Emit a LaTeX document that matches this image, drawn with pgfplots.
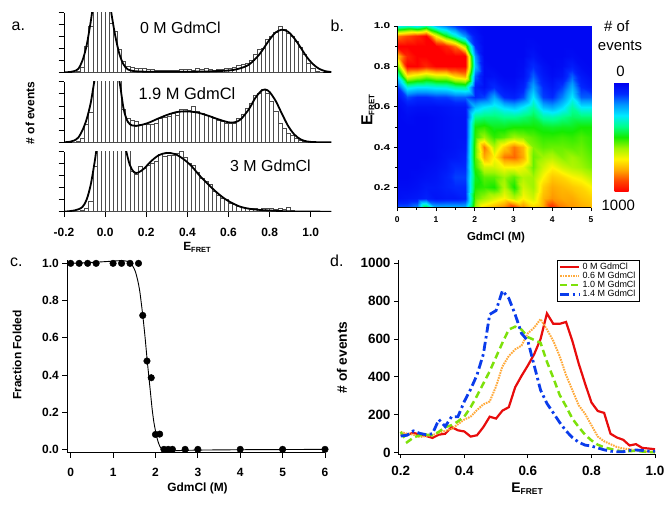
\documentclass[border=0pt]{standalone}
\usepackage{pgfplots}
\pgfplotsset{compat=1.18}
\usepackage{fontspec}
\setmainfont{Liberation Sans}
\usepackage{graphicx}
\newcommand{\fs}[1]{\fontsize{#1}{#1}\selectfont}
\definecolor{cred}{RGB}{232,12,12}
\definecolor{corange}{RGB}{255,170,60}
\definecolor{cgreen}{RGB}{125,225,10}
\definecolor{cblue}{RGB}{10,60,235}
\pgfplotsset{colormap={heat}{rgb255=(0,0,240) rgb255=(0,40,255) rgb255=(0,150,255) rgb255=(0,235,255) rgb255=(0,255,140) rgb255=(20,235,0) rgb255=(160,245,0) rgb255=(255,245,0) rgb255=(255,170,0) rgb255=(255,70,0) rgb255=(255,0,0)}}
\begin{document}
\begin{tikzpicture}
\path[use as bounding box] (0,0) rectangle (672bp,-510bp);
\pgfplotsset{
  every axis/.append style={scale only axis, tick align=outside,
    /pgf/number format/assume math mode=true,
    axis line style={-, line width=0.8bp}, every tick/.append style={black, line width=0.8bp}},
  hist/.style={anchor=north west, width=267.3bp, xmin=-0.2, xmax=1.1, ymin=0, ymax=1,
    axis x line*=bottom, axis y line*=left, ytick={0,0.2,0.4,0.6,0.8,1},
    yticklabels={{},{},{},{},{},{}},
    xtick=\empty, major tick length=5.5bp},
  bars/.style={ybar, bar width=0.02, bar shift=0pt, draw=black!70, fill=white, line width=0.5bp},
  fitc/.style={black, line width=1.8bp, smooth, tension=0.5}
}
% ---------------- panel a ----------------
\begin{axis}[hist, at={(64bp,-12.7bp)}, height=59.6bp]
\addplot[bars] coordinates {(-0.15,0)(-0.13,0.02)(-0.11,0.08)(-0.09,0.44)(-0.07,0.77)(-0.05,3)(-0.03,3)(-0.01,3)(0.01,3)(0.03,0.83)(0.05,0.69)(0.07,0.38)(0.09,0.18)(0.11,0.1)(0.13,0.09)(0.15,0.07)(0.17,0.06)(0.19,0.06)(0.21,0.05)(0.23,0.05)(0.25,0.04)(0.27,0.03)(0.29,0.04)(0.31,0.03)(0.33,0.04)(0.35,0.04)(0.37,0.05)(0.39,0.05)(0.41,0.05)(0.43,0.04)(0.45,0.06)(0.47,0.05)(0.49,0.06)(0.51,0.05)(0.53,0.04)(0.55,0.05)(0.57,0.05)(0.59,0.06)(0.61,0.07)(0.63,0.09)(0.65,0.11)(0.67,0.13)(0.69,0.16)(0.71,0.2)(0.73,0.3)(0.75,0.38)(0.77,0.41)(0.79,0.55)(0.81,0.6)(0.83,0.68)(0.85,0.77)(0.87,0.73)(0.89,0.66)(0.91,0.6)(0.93,0.52)(0.95,0.42)(0.97,0.3)(0.99,0.16)(1.01,0.06)(1.03,0.02)(1.05,0)};
\addplot[fitc] coordinates {(-0.2,0)(-0.17,0.005)(-0.15,0.02)(-0.13,0.06)(-0.11,0.2)(-0.09,0.45)(-0.07,0.85)(-0.05,1.3)(-0.02,1.7)(0.01,1.5)(0.03,1.0)(0.05,0.6)(0.07,0.3)(0.09,0.13)(0.11,0.05)(0.14,0.02)(0.2,0.01)(0.3,0.01)(0.4,0.01)(0.5,0.015)(0.6,0.03)(0.65,0.06)(0.7,0.13)(0.75,0.3)(0.8,0.55)(0.83,0.67)(0.86,0.715)(0.89,0.68)(0.92,0.57)(0.95,0.42)(0.98,0.26)(1.01,0.14)(1.04,0.06)(1.07,0.02)(1.1,0.005)};
\end{axis}
\begin{axis}[hist, at={(64bp,-81.7bp)}, height=60.6bp]
\addplot[bars] coordinates {(-0.15,0)(-0.13,0.02)(-0.11,0.07)(-0.09,0.29)(-0.07,0.5)(-0.05,3)(-0.03,3)(-0.01,3)(0.01,3)(0.03,3)(0.05,3)(0.07,3)(0.09,0.54)(0.11,0.4)(0.13,0.36)(0.15,0.34)(0.17,0.3)(0.19,0.29)(0.21,0.29)(0.23,0.29)(0.25,0.32)(0.27,0.4)(0.29,0.41)(0.31,0.43)(0.33,0.48)(0.35,0.44)(0.37,0.54)(0.39,0.54)(0.41,0.53)(0.43,0.59)(0.45,0.51)(0.47,0.48)(0.49,0.45)(0.51,0.43)(0.53,0.4)(0.55,0.37)(0.57,0.34)(0.59,0.32)(0.61,0.32)(0.63,0.32)(0.65,0.4)(0.67,0.46)(0.69,0.57)(0.71,0.65)(0.73,0.78)(0.75,0.81)(0.77,0.87)(0.79,0.81)(0.81,0.68)(0.83,0.51)(0.85,0.32)(0.87,0.24)(0.89,0.15)(0.91,0.12)(0.93,0.06)(0.95,0.03)(0.97,0.01)(0.99,0)};
\addplot[fitc] coordinates {(-0.2,0)(-0.17,0.01)(-0.15,0.03)(-0.13,0.08)(-0.11,0.2)(-0.09,0.38)(-0.07,0.65)(-0.05,1.05)(-0.02,1.5)(0.01,1.6)(0.04,1.5)(0.07,1.0)(0.09,0.55)(0.11,0.34)(0.13,0.28)(0.15,0.27)(0.18,0.29)(0.21,0.32)(0.25,0.38)(0.3,0.45)(0.35,0.5)(0.4,0.51)(0.45,0.49)(0.5,0.44)(0.55,0.38)(0.6,0.33)(0.63,0.33)(0.66,0.38)(0.7,0.55)(0.73,0.73)(0.76,0.85)(0.78,0.87)(0.8,0.83)(0.83,0.68)(0.86,0.47)(0.89,0.27)(0.92,0.13)(0.95,0.05)(0.98,0.015)(1.02,0.003)(1.1,0)};
\end{axis}
\begin{axis}[hist, at={(64bp,-151.7bp)}, height=60bp,
  xtick={-0.2,0,0.2,0.4,0.6,0.8,1.0}, xticklabels={-0.2,0.0,0.2,0.4,0.6,0.8,1.0},
  xticklabel style={font=\bfseries\fs{12}, yshift=-7bp}]
\addplot[bars] coordinates {(-0.15,0)(-0.13,0.01)(-0.11,0.03)(-0.09,0.05)(-0.07,0.17)(-0.05,0.75)(-0.03,3)(-0.01,3)(0.01,3)(0.03,3)(0.05,3)(0.07,3)(0.09,3)(0.11,3)(0.13,0.67)(0.15,0.62)(0.17,0.75)(0.19,0.73)(0.21,0.78)(0.23,0.81)(0.25,0.84)(0.27,0.95)(0.29,0.92)(0.31,0.94)(0.33,0.94)(0.35,0.98)(0.37,1.0)(0.39,0.9)(0.41,0.81)(0.43,0.78)(0.45,0.65)(0.47,0.56)(0.49,0.5)(0.51,0.45)(0.53,0.34)(0.55,0.28)(0.57,0.22)(0.59,0.2)(0.61,0.14)(0.63,0.12)(0.65,0.09)(0.67,0.07)(0.69,0.06)(0.71,0.05)(0.73,0.05)(0.75,0.04)(0.77,0.06)(0.79,0.05)(0.81,0.05)(0.83,0.04)(0.85,0.06)(0.87,0.04)(0.89,0.08)(0.91,0.03)(0.93,0.01)(0.95,0)};
\addplot[fitc] coordinates {(-0.2,0)(-0.17,0.01)(-0.15,0.02)(-0.13,0.04)(-0.11,0.08)(-0.09,0.2)(-0.07,0.45)(-0.05,0.85)(-0.03,1.3)(0,1.7)(0.04,1.8)(0.08,1.4)(0.1,1.05)(0.12,0.78)(0.14,0.66)(0.16,0.65)(0.19,0.72)(0.22,0.83)(0.26,0.94)(0.3,0.98)(0.34,0.96)(0.38,0.88)(0.42,0.76)(0.46,0.6)(0.5,0.46)(0.54,0.33)(0.58,0.22)(0.62,0.14)(0.66,0.08)(0.7,0.05)(0.75,0.03)(0.8,0.02)(0.9,0.005)(1.1,0)};
\end{axis}
% ---------------- panel b ----------------
\begin{axis}[at={(397.3bp,-26bp)}, anchor=north west, width=193.7bp, height=181.7bp,
  view={0}{90}, xmin=0, xmax=5, ymin=0.1, ymax=1, hide axis, colormap name=heat,
  point meta min=0, point meta max=1000, colorbar,
  colorbar style={at={(parent axis.north east)}, anchor=north west, xshift=15bp, yshift=-56.7bp,
    width=26bp, height=109bp, scale only axis, y dir=reverse, hide axis}]
\addplot3[surf, shader=interp, mesh/cols=21] coordinates {
(0,0.1,150)(0.25,0.1,150)(0.5,0.1,200)(0.75,0.1,500)(1,0.1,250)(1.25,0.1,250)(1.5,0.1,250)(1.75,0.1,250)(2,0.1,600)(2.25,0.1,750)(2.5,0.1,800)(2.75,0.1,850)(3,0.1,950)(3.25,0.1,850)(3.5,0.1,750)(3.75,0.1,800)(4,0.1,950)(4.25,0.1,850)(4.5,0.1,820)(4.75,0.1,800)(5,0.1,780)
(0,0.15,40)(0.25,0.15,50)(0.5,0.15,60)(0.75,0.15,80)(1,0.15,50)(1.25,0.15,60)(1.5,0.15,60)(1.75,0.15,80)(2,0.15,550)(2.25,0.15,600)(2.5,0.15,650)(2.75,0.15,700)(3,0.15,620)(3.25,0.15,700)(3.5,0.15,650)(3.75,0.15,780)(4,0.15,820)(4.25,0.15,800)(4.5,0.15,800)(4.75,0.15,770)(5,0.15,750)
(0,0.2,30)(0.25,0.2,30)(0.5,0.2,40)(0.75,0.2,60)(1,0.2,60)(1.25,0.2,80)(1.5,0.2,100)(1.75,0.2,100)(2,0.2,500)(2.25,0.2,520)(2.5,0.2,500)(2.75,0.2,620)(3,0.2,500)(3.25,0.2,650)(3.5,0.2,600)(3.75,0.2,750)(4,0.2,800)(4.25,0.2,780)(4.5,0.2,760)(4.75,0.2,740)(5,0.2,700)
(0,0.25,20)(0.25,0.25,20)(0.5,0.25,30)(0.75,0.25,40)(1,0.25,50)(1.25,0.25,80)(1.5,0.25,120)(1.75,0.25,120)(2,0.25,480)(2.25,0.25,550)(2.5,0.25,550)(2.75,0.25,600)(3,0.25,550)(3.25,0.25,620)(3.5,0.25,600)(3.75,0.25,700)(4,0.25,760)(4.25,0.25,740)(4.5,0.25,700)(4.75,0.25,680)(5,0.25,630)
(0,0.3,20)(0.25,0.3,20)(0.5,0.3,20)(0.75,0.3,30)(1,0.3,40)(1.25,0.3,60)(1.5,0.3,100)(1.75,0.3,100)(2,0.3,520)(2.25,0.3,650)(2.5,0.3,650)(2.75,0.3,700)(3,0.3,700)(3.25,0.3,680)(3.5,0.3,560)(3.75,0.3,650)(4,0.3,700)(4.25,0.3,650)(4.5,0.3,620)(4.75,0.3,600)(5,0.3,570)
(0,0.35,20)(0.25,0.35,20)(0.5,0.35,20)(0.75,0.35,20)(1,0.35,30)(1.25,0.35,50)(1.5,0.35,60)(1.75,0.35,80)(2,0.35,550)(2.25,0.35,800)(2.5,0.35,700)(2.75,0.35,850)(3,0.35,870)(3.25,0.35,800)(3.5,0.35,560)(3.75,0.35,600)(4,0.35,620)(4.25,0.35,580)(4.5,0.35,600)(4.75,0.35,580)(5,0.35,550)
(0,0.4,20)(0.25,0.4,20)(0.5,0.4,20)(0.75,0.4,20)(1,0.4,30)(1.25,0.4,40)(1.5,0.4,50)(1.75,0.4,60)(2,0.4,550)(2.25,0.4,850)(2.5,0.4,620)(2.75,0.4,750)(3,0.4,850)(3.25,0.4,780)(3.5,0.4,580)(3.75,0.4,550)(4,0.4,560)(4.25,0.4,560)(4.5,0.4,550)(4.75,0.4,560)(5,0.4,530)
(0,0.45,20)(0.25,0.45,20)(0.5,0.45,20)(0.75,0.45,20)(1,0.45,30)(1.25,0.45,40)(1.5,0.45,50)(1.75,0.45,50)(2,0.45,520)(2.25,0.45,600)(2.5,0.45,520)(2.75,0.45,550)(3,0.45,600)(3.25,0.45,580)(3.5,0.45,550)(3.75,0.45,520)(4,0.45,520)(4.25,0.45,530)(4.5,0.45,520)(4.75,0.45,540)(5,0.45,520)
(0,0.5,20)(0.25,0.5,20)(0.5,0.5,20)(0.75,0.5,20)(1,0.5,30)(1.25,0.5,40)(1.5,0.5,50)(1.75,0.5,50)(2,0.5,500)(2.25,0.5,520)(2.5,0.5,480)(2.75,0.5,480)(3,0.5,500)(3.25,0.5,500)(3.5,0.5,500)(3.75,0.5,480)(4,0.5,470)(4.25,0.5,480)(4.5,0.5,480)(4.75,0.5,500)(5,0.5,500)
(0,0.55,20)(0.25,0.55,30)(0.5,0.55,20)(0.75,0.55,20)(1,0.55,30)(1.25,0.55,40)(1.5,0.55,50)(1.75,0.55,50)(2,0.55,400)(2.25,0.55,420)(2.5,0.55,420)(2.75,0.55,400)(3,0.55,400)(3.25,0.55,420)(3.5,0.55,450)(3.75,0.55,380)(4,0.55,370)(4.25,0.55,400)(4.5,0.55,430)(4.75,0.55,420)(5,0.55,420)
(0,0.6,20)(0.25,0.6,50)(0.5,0.6,40)(0.75,0.6,40)(1,0.6,40)(1.25,0.6,50)(1.5,0.6,60)(1.75,0.6,60)(2,0.6,250)(2.25,0.6,300)(2.5,0.6,330)(2.75,0.6,280)(3,0.6,250)(3.25,0.6,300)(3.5,0.6,380)(3.75,0.6,250)(4,0.6,220)(4.25,0.6,280)(4.5,0.6,380)(4.75,0.6,300)(5,0.6,300)
(0,0.65,40)(0.25,0.65,130)(0.5,0.65,100)(0.75,0.65,100)(1,0.65,120)(1.25,0.65,120)(1.5,0.65,150)(1.75,0.65,150)(2,0.65,100)(2.25,0.65,120)(2.5,0.65,220)(2.75,0.65,100)(3,0.65,80)(3.25,0.65,130)(3.5,0.65,300)(3.75,0.65,120)(4,0.65,100)(4.25,0.65,180)(4.5,0.65,300)(4.75,0.65,150)(5,0.65,150)
(0,0.7,100)(0.25,0.7,330)(0.5,0.7,300)(0.75,0.7,300)(1,0.7,320)(1.25,0.7,330)(1.5,0.7,380)(1.75,0.7,400)(2,0.7,80)(2.25,0.7,40)(2.5,0.7,100)(2.75,0.7,50)(3,0.7,40)(3.25,0.7,80)(3.5,0.7,220)(3.75,0.7,100)(4,0.7,60)(4.25,0.7,120)(4.5,0.7,230)(4.75,0.7,100)(5,0.7,60)
(0,0.75,300)(0.25,0.75,700)(0.5,0.75,650)(0.75,0.75,600)(1,0.75,650)(1.25,0.75,650)(1.5,0.75,750)(1.75,0.75,800)(2,0.75,150)(2.25,0.75,30)(2.5,0.75,40)(2.75,0.75,20)(3,0.75,20)(3.25,0.75,40)(3.5,0.75,150)(3.75,0.75,60)(4,0.75,30)(4.25,0.75,50)(4.5,0.75,150)(4.75,0.75,60)(5,0.75,30)
(0,0.8,550)(0.25,0.8,1000)(0.5,0.8,1000)(0.75,0.8,950)(1,0.8,1000)(1.25,0.8,1000)(1.5,0.8,1000)(1.75,0.8,1000)(2,0.8,250)(2.25,0.8,30)(2.5,0.8,20)(2.75,0.8,20)(3,0.8,20)(3.25,0.8,30)(3.5,0.8,100)(3.75,0.8,40)(4,0.8,20)(4.25,0.8,30)(4.5,0.8,70)(4.75,0.8,30)(5,0.8,20)
(0,0.85,750)(0.25,0.85,950)(0.5,0.85,1000)(0.75,0.85,1000)(1,0.85,1000)(1.25,0.85,1000)(1.5,0.85,1000)(1.75,0.85,1000)(2,0.85,200)(2.25,0.85,20)(2.5,0.85,20)(2.75,0.85,20)(3,0.85,20)(3.25,0.85,20)(3.5,0.85,50)(3.75,0.85,20)(4,0.85,20)(4.25,0.85,20)(4.5,0.85,30)(4.75,0.85,20)(5,0.85,20)
(0,0.9,1000)(0.25,0.9,1000)(0.5,0.9,1000)(0.75,0.9,1000)(1,0.9,1000)(1.25,0.9,950)(1.5,0.9,850)(1.75,0.9,600)(2,0.9,100)(2.25,0.9,20)(2.5,0.9,20)(2.75,0.9,20)(3,0.9,20)(3.25,0.9,20)(3.5,0.9,30)(3.75,0.9,20)(4,0.9,20)(4.25,0.9,20)(4.5,0.9,20)(4.75,0.9,20)(5,0.9,20)
(0,0.95,850)(0.25,0.95,900)(0.5,0.95,950)(0.75,0.95,1000)(1,0.95,700)(1.25,0.95,500)(1.5,0.95,350)(1.75,0.95,200)(2,0.95,60)(2.25,0.95,20)(2.5,0.95,20)(2.75,0.95,20)(3,0.95,20)(3.25,0.95,20)(3.5,0.95,20)(3.75,0.95,20)(4,0.95,20)(4.25,0.95,20)(4.5,0.95,20)(4.75,0.95,20)(5,0.95,20)
(0,1,300)(0.25,1,350)(0.5,1,300)(0.75,1,400)(1,1,250)(1.25,1,180)(1.5,1,120)(1.75,1,60)(2,1,30)(2.25,1,20)(2.5,1,20)(2.75,1,20)(3,1,20)(3.25,1,20)(3.5,1,20)(3.75,1,20)(4,1,20)(4.25,1,20)(4.5,1,20)(4.75,1,20)(5,1,20)
};
\end{axis}
\begin{axis}[at={(397.3bp,-26bp)}, anchor=north west, width=193.7bp, height=181.7bp,
  xmin=0, xmax=5, ymin=0.1, ymax=1, axis x line*=bottom, axis y line*=left,
  xtick={0,1,2,3,4,5}, xticklabels={0,1,2,3,4,5}, minor x tick num=1,
  ytick={0.2,0.4,0.6,0.8,1.0},
  yticklabels={\scalebox{1.4}[1]{0.2},\scalebox{1.4}[1]{0.4},\scalebox{1.4}[1]{0.6},\scalebox{1.4}[1]{0.8},\scalebox{1.4}[1]{1.0}},
  minor y tick num=1, major tick length=3.5bp, minor tick length=2bp,
  ticklabel style={font=\bfseries\fs{8.5}}, xticklabel style={yshift=-2bp}]
\end{axis}
% ---------------- panel c ----------------
\begin{axis}[at={(67.3bp,-260bp)}, anchor=north west, width=257.7bp, height=192.7bp,
  xmin=-0.08, xmax=6.0, ymin=-0.018, ymax=1.018, axis x line*=bottom, axis y line*=left,
  xtick={0,1,2,3,4,5,6}, xticklabels={0,1,2,3,4,5,6},
  ytick={0,0.2,0.4,0.6,0.8,1}, yticklabels={0.0,0.2,0.4,0.6,0.8,1.0},
  ticklabel style={font=\bfseries\fs{12}}, xticklabel style={yshift=-7bp},
  major tick length=5bp, clip=false]
\addplot[black, line width=0.9bp, smooth, tension=0.4] coordinates {(0,1.0)(0.5,1.005)(1.0,1.012)(1.2,1.015)(1.35,1.01)(1.45,0.99)(1.52,0.96)(1.58,0.91)(1.63,0.85)(1.68,0.76)(1.72,0.68)(1.76,0.59)(1.8,0.49)(1.84,0.4)(1.88,0.31)(1.92,0.22)(1.96,0.15)(2.0,0.1)(2.05,0.05)(2.1,0.018)(2.15,0.0)(2.2,-0.007)(2.3,-0.009)(2.5,-0.007)(3,-0.004)(4,-0.002)(5,-0.001)(6,0)};
\addplot[only marks, mark=*, mark size=3.3bp, black] coordinates {(0,1)(0.2,1)(0.4,1)(0.6,1)(1.0,1)(1.2,1)(1.4,1)(1.6,1)(1.7,0.72)(1.8,0.475)(1.9,0.385)(2.0,0.08)(2.1,0.082)(2.2,0)(2.3,0)(2.4,0)(2.7,0)(3,0)(4,0)(5,0)(6,0)};
\end{axis}
% ---------------- panel d ----------------
\begin{axis}[at={(398bp,-260bp)}, anchor=north west, width=257bp, height=194bp,
  xmin=0.1915, xmax=1.0, ymin=-7, ymax=1017, axis x line*=bottom, axis y line*=left,
  scaled ticks=false,
  xtick={0.2,0.4,0.6,0.8,1.0}, xticklabels={0.2,0.4,0.6,0.8,1.0},
  ytick={0,200,400,600,800,1000}, yticklabels={0,200,400,600,800,1000},
  ticklabel style={font=\bfseries\fs{13.5}}, xticklabel style={yshift=-5bp},
  major tick length=4bp,
  legend image code/.code={\draw[#1] (0bp,0bp) -- (19bp,0bp);},
  legend cell align=left,
  legend style={at={(0.619,1)}, anchor=north west, draw=black, line width=0.5bp,
    font=\fs{9}, inner xsep=1.5bp, inner ysep=1bp, row sep=-3bp}]
\addplot[cred, line width=2.2bp] coordinates {(0.20,95)(0.22,95)(0.24,105)(0.26,95)(0.28,88)(0.30,78)(0.32,95)(0.34,100)(0.36,135)(0.38,118)(0.40,112)(0.42,85)(0.44,92)(0.46,135)(0.48,190)(0.50,180)(0.52,222)(0.54,240)(0.56,345)(0.58,405)(0.60,460)(0.62,520)(0.64,600)(0.66,735)(0.68,680)(0.70,680)(0.72,690)(0.74,590)(0.76,470)(0.78,365)(0.80,265)(0.82,220)(0.84,210)(0.86,100)(0.88,80)(0.90,68)(0.92,38)(0.94,45)(0.96,25)(0.98,22)(1.00,18)};
\addlegendentry{0 M GdmCl}
\addplot[corange, line width=2bp, dash pattern=on 1.6bp off 1bp] coordinates {(0.20,110)(0.22,100)(0.24,95)(0.26,82)(0.28,88)(0.30,92)(0.32,105)(0.34,115)(0.36,125)(0.38,150)(0.40,175)(0.42,190)(0.44,225)(0.46,255)(0.48,270)(0.50,350)(0.52,455)(0.54,510)(0.56,545)(0.58,565)(0.60,630)(0.62,660)(0.64,705)(0.66,650)(0.68,590)(0.70,510)(0.72,410)(0.74,330)(0.76,250)(0.78,205)(0.80,145)(0.82,85)(0.84,60)(0.86,45)(0.88,30)(0.90,22)(0.92,18)(0.94,12)(0.96,8)(0.98,5)(1.00,5)};
\addlegendentry{0.6 M GdmCl}
\addplot[cgreen, line width=2.5bp, dash pattern=on 7bp off 4bp] coordinates {(0.20,110)(0.22,55)(0.24,80)(0.26,92)(0.28,95)(0.30,92)(0.32,110)(0.34,135)(0.36,145)(0.38,165)(0.40,190)(0.42,240)(0.44,300)(0.46,365)(0.48,430)(0.50,505)(0.52,580)(0.54,650)(0.56,665)(0.58,650)(0.60,610)(0.62,595)(0.64,580)(0.66,480)(0.68,395)(0.70,305)(0.72,245)(0.74,180)(0.76,135)(0.78,95)(0.80,65)(0.82,42)(0.84,28)(0.86,20)(0.88,12)(0.90,6)(0.92,8)(0.94,10)(0.96,6)(0.98,4)(1.00,2)};
\addlegendentry{1.0 M GdmCl}
\addplot[cblue, line width=2.8bp, dash pattern=on 9bp off 3.5bp on 2.5bp off 3.5bp] coordinates {(0.20,88)(0.22,92)(0.24,115)(0.26,102)(0.28,95)(0.30,100)(0.32,175)(0.34,138)(0.36,190)(0.38,190)(0.40,270)(0.42,335)(0.44,410)(0.46,520)(0.48,730)(0.50,750)(0.52,855)(0.54,815)(0.56,730)(0.58,630)(0.60,590)(0.62,460)(0.64,330)(0.66,260)(0.68,210)(0.70,160)(0.72,115)(0.74,80)(0.76,55)(0.78,40)(0.80,35)(0.82,25)(0.84,15)(0.86,8)(0.88,5)(0.90,5)(0.92,12)(0.94,14)(0.96,12)(0.98,8)(1.00,8)};
\addlegendentry{1.4 M GdmCl}
\end{axis}
% ---------------- text ----------------
\node[anchor=base west, inner sep=0, font=\fs{16}] at (11.5bp,-30bp) {a.};
\node[anchor=base west, inner sep=0, font=\fs{16}] at (330.5bp,-31.5bp) {b.};
\node[anchor=base west, inner sep=0, font=\fs{16}] at (10bp,-266.7bp) {c.};
\node[anchor=base west, inner sep=0, font=\fs{16}] at (330bp,-266.7bp) {d.};
\node[anchor=base west, inner sep=0, font=\fs{16}] at (140bp,-33.3bp) {0 M GdmCl};
\node[anchor=base west, inner sep=0, font=\fs{16.5}] at (138.3bp,-99bp) {1.9 M GdmCl};
\node[anchor=base west, inner sep=0, font=\fs{16}] at (230bp,-171.7bp) {3 M GdmCl};
\node[rotate=90, inner sep=0, font=\bfseries\fs{12}] at (30bp,-113bp) {\# of events};
\node[inner sep=0, font=\bfseries] at (197bp,-247bp) {\fs{12}E\fs{7.5}\raisebox{-2bp}{FRET}};
\node[rotate=90, inner sep=0, font=\bfseries] at (368bp,-110bp) {\fs{16}E\fs{8}\raisebox{-2bp}{FRET}};
\node[inner sep=0, font=\bfseries\fs{11.5}] at (496bp,-237.5bp) {GdmCl (M)};
\node[anchor=base, inner sep=0, font=\fs{15}] at (616.7bp,-31.7bp) {\# of};
\node[anchor=base, inner sep=0, font=\fs{15}] at (620bp,-50bp) {events};
\node[anchor=base, inner sep=0, font=\fs{15}] at (620.5bp,-76.7bp) {0};
\node[anchor=base, inner sep=0, font=\fs{15}] at (618.3bp,-210.7bp) {1000};
\node[rotate=90, inner sep=0, font=\bfseries\fs{12}] at (17bp,-355bp) {Fraction Folded};
\node[inner sep=0, font=\bfseries\fs{12}] at (197.5bp,-488bp) {GdmCl (M)};
\node[rotate=90, inner sep=0, font=\bfseries\fs{13.8}] at (342bp,-357.5bp) {\# of events};
\node[inner sep=0, font=\bfseries] at (527bp,-489bp) {\fs{14}E\fs{8.5}\raisebox{-2bp}{FRET}};
\end{tikzpicture}
\end{document}
